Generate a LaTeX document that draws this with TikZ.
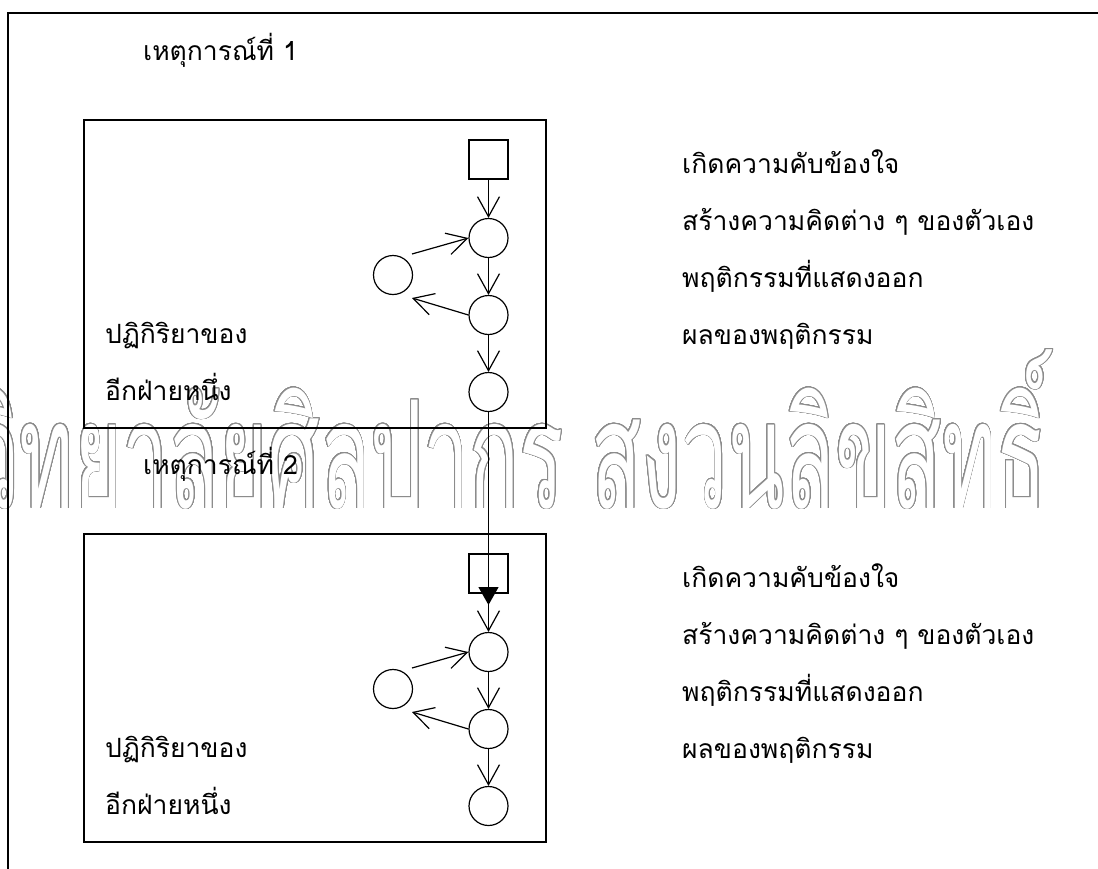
\documentclass[tikz,border=0pt]{standalone}
\usepackage{fontspec}
\newfontfamily\thaifont[Script=Thai]{Loma}
\usepackage{contour}
\contourlength{0.8pt}
\contournumber{32}
\usetikzlibrary{arrows.meta,calc}
\begin{document}
\begin{tikzpicture}[x=1pt,y=-1pt,
  frame/.style={draw, line width=1.5pt},
  box/.style={draw, line width=1.4pt},
  circ/.style={circle, draw, line width=1.2pt, minimum size=39pt, inner sep=0pt},
  sq/.style={rectangle, draw, line width=1.3pt, minimum size=39pt, inner sep=0pt},
  lbl/.style={anchor=base west, inner sep=0pt, font=\thaifont\fontsize{26.5}{32}\selectfont},
  wmark/.style={anchor=base west, inner sep=0pt, font=\thaifont\fontsize{150}{160}\selectfont},
  conn/.style={line width=1.2pt, -{Straight Barb[length=20pt,width=22pt,line width=1.2pt]}},
  tri/.style={line width=1.2pt, -{Triangle[length=18pt,width=20pt]}},
]
\useasboundingbox (0,0) rectangle (1098,868);
\clip (0,0) rectangle (1098,868);
\fill[white] (0,0) rectangle (1098,868);
% watermark
\node[wmark] (wm) at (-182,508) {\contour{black!45}{\scalebox{0.55}[1]{\textcolor{white}{มหาวิทยาลัยศิลปากร สงวนลิขสิทธิ์}}}};
% outer frame
\draw[frame] (8,1000) -- (8,13) -- (1200,13);
% titles
\node[lbl] (t1) at (143,60) {เหตุการณ์ที่ 1};
\node[lbl] (t2) at (143,474) {เหตุการณ์ที่ 2};
\foreach \i/\dy in {1/0,2/414}{
  \draw[box] (84,120+\dy) rectangle (546,428+\dy);
  \node[sq] (S\i) at (488.5,159.5+\dy) {};
  \node[circ] (A\i) at (488.5,238+\dy) {};
  \node[circ] (B\i) at (488.5,315+\dy) {};
  \node[circ] (C\i) at (488.5,392+\dy) {};
  \node[circ] (D\i) at (393,275+\dy) {};
  \coordinate (Da\i) at ($(D\i)+(19,-21)$);
  \coordinate (Db\i) at ($(D\i)+(19,23)$);
  \draw[conn] (S\i.south) -- (A\i.north);
  \draw[conn] (A\i.south) -- (B\i.north);
  \draw[conn] (B\i.south) -- (C\i.north);
  \draw[conn] (Da\i) -- (A\i.west);
  \draw[conn] (B\i.west) -- (Db\i);
  \node[lbl] (l1\i) at (105,343+\dy) {ปฏิกิริยาของ};
  \node[lbl] (l2\i) at (105,400+\dy) {อีกฝ่ายหนึ่ง};
  \node[lbl] (r1\i) at (682,173+\dy) {เกิดความคับข้องใจ};
  \node[lbl] (r2\i) at (682,230+\dy) {สร้างความคิดต่าง ๆ ของตัวเอง};
  \node[lbl] (r3\i) at (682,287+\dy) {พฤติกรรมที่แสดงออก};
  \node[lbl] (r4\i) at (682,344+\dy) {ผลของพฤติกรรม};
}
\coordinate (T) at (488.5,605);
\draw[tri] (C1.south) -- (T);
\end{tikzpicture}
\end{document}
